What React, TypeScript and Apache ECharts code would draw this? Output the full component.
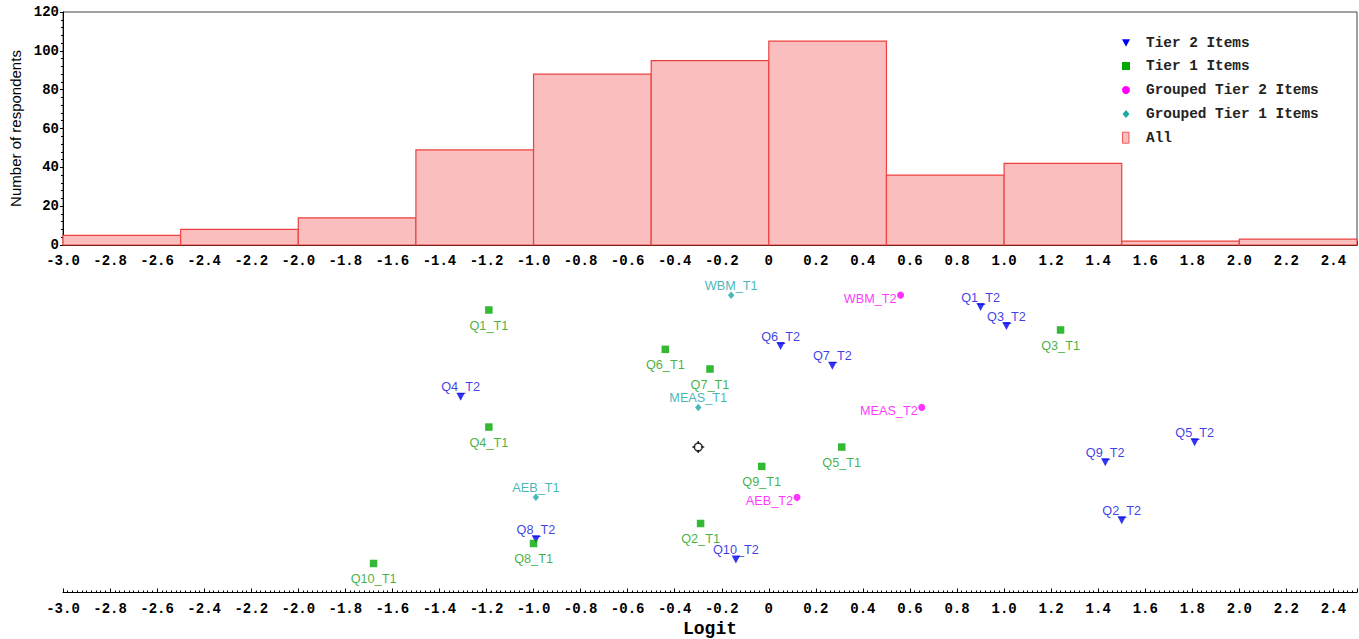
import React, { useEffect, useRef } from "react";
import * as echarts from "echarts";

// Histogram of respondents (bin edges on the logit scale and counts)
const binEdges = [-3.0, -2.5, -2.0, -1.5, -1.0, -0.5, 0, 0.5, 1.0, 1.5, 2.0, 2.5];
const binCounts = [5, 8, 14, 49, 88, 95, 105, 36, 42, 2, 3];

// Tier 2 items
const tier2Names = ["Q1_T2", "Q3_T2", "Q6_T2", "Q7_T2", "Q4_T2", "Q5_T2", "Q9_T2", "Q2_T2", "Q8_T2", "Q10_T2"];
const tier2X = [0.9, 1.01, 0.05, 0.27, -1.31, 1.81, 1.43, 1.5, -0.99, -0.14];
const tier2Y = [88.5, 82.6, 76.4, 70.3, 60.7, 46.6, 40.4, 22.4, 16.5, 10.2];

// Tier 1 items
const tier1Names = ["Q1_T1", "Q3_T1", "Q6_T1", "Q7_T1", "Q4_T1", "Q5_T1", "Q9_T1", "Q2_T1", "Q8_T1", "Q10_T1"];
const tier1X = [-1.19, 1.24, -0.44, -0.25, -1.19, 0.31, -0.03, -0.29, -1.0, -1.68];
const tier1Y = [87.6, 81.4, 75.4, 69.3, 51.3, 45.1, 39.1, 21.4, 15.2, 9.0];

// Grouped tier 2 items
const group2Names = ["WBM_T2", "MEAS_T2", "AEB_T2"];
const group2X = [0.56, 0.65, 0.12];
const group2Y = [92.2, 57.4, 29.5];

// Grouped tier 1 items
const group1Names = ["WBM_T1", "MEAS_T1", "AEB_T1"];
const group1X = [-0.16, -0.3, -0.99];
const group1Y = [92.2, 57.4, 29.5];

// Mean marker
const meanX = [-0.3];
const meanY = [45.1];

const legendLabels = ["Tier 2 Items", "Tier 1 Items", "Grouped Tier 2 Items", "Grouped Tier 1 Items", "All"];

const xTickFmt = (v: number) => (Math.abs(v) < 1e-9 ? "0" : v.toFixed(1));

const TRI_DOWN = "path://M0,0 L10,0 L5,9.5 Z";

export default function App() {
  const ref = useRef<HTMLDivElement>(null);

  useEffect(() => {
    if (!ref.current) return;
    const chart = echarts.init(ref.current, null, { renderer: "svg" });

    const mono = "'Liberation Mono', 'Courier New', monospace";
    const sans = "'Liberation Sans', Arial, sans-serif";

    const histData = binCounts.map((c, i) => [binEdges[i], binEdges[i + 1], c]);
    const pts = (xs: number[], ys: number[], names: string[]) =>
      xs.map((x, i) => ({ value: [x, ys[i]], name: names[i] }));

    const xAxisCommon = {
      type: "value",
      min: -3.0,
      max: 2.5,
      interval: 0.2,
      axisLine: { show: true, onZero: false, lineStyle: { color: "#000", width: 1 } },
      axisTick: { show: true, inside: true, length: 4, lineStyle: { color: "#000" } },
      minorTick: { show: true, splitNumber: 10, length: 2, lineStyle: { color: "#000" } },
      splitLine: { show: false },
      axisLabel: {
        formatter: xTickFmt,
        fontFamily: mono,
        fontWeight: "bold",
        fontSize: 14,
        color: "#000",
        margin: 9,
        showMaxLabel: false,
      },
    };

    const legendY = [42.7, 66, 90, 114, 137.7];
    const iconX = 1126;
    const graphics: any[] = [
      {
        type: "polygon",
        shape: { points: [[iconX - 4, legendY[0] - 3.5], [iconX + 4, legendY[0] - 3.5], [iconX, legendY[0] + 4]] },
        style: { fill: "#0000F0" },
      },
      {
        type: "rect",
        shape: { x: iconX - 4, y: legendY[1] - 4, width: 8, height: 8 },
        style: { fill: "#00A800" },
      },
      {
        type: "circle",
        shape: { cx: iconX, cy: legendY[2], r: 4 },
        style: { fill: "#FF00FF" },
      },
      {
        type: "polygon",
        shape: { points: [[iconX, legendY[3] - 4], [iconX + 3.5, legendY[3]], [iconX, legendY[3] + 4], [iconX - 3.5, legendY[3]]] },
        style: { fill: "#1AA8A8" },
      },
      {
        type: "rect",
        shape: { x: iconX - 3.5, y: legendY[4] - 5.5, width: 6.5, height: 11 },
        style: { fill: "#FABEBE", stroke: "#EE5A5A", lineWidth: 1 },
      },
      ...legendLabels.map((t, i) => ({
        type: "text",
        x: 1146,
        y: legendY[i],
        style: {
          text: t,
          fontFamily: mono,
          fontWeight: "bold",
          fontSize: 14.4,
          fill: "#222",
          verticalAlign: "middle",
          align: "left",
        },
      })),
    ];

    const option: any = {
      animation: false,
      backgroundColor: "#fff",
      grid: [
        {
          left: 63, right: 2, top: 12, height: 233, show: true, borderColor: "#444", borderWidth: 1,
          backgroundColor: "transparent", outerBoundsMode: "none", containLabel: false,
        },
        { left: 63, right: 2, top: 270, height: 322.5, outerBoundsMode: "none", containLabel: false },
      ],
      xAxis: [
        { ...xAxisCommon, gridIndex: 0 },
        {
          ...xAxisCommon,
          gridIndex: 1,
          name: "Logit",
          nameLocation: "middle",
          nameGap: 27,
          nameTextStyle: { fontFamily: mono, fontWeight: "bold", fontSize: 18, color: "#000" },
        },
      ],
      yAxis: [
        {
          type: "value",
          gridIndex: 0,
          min: 0,
          max: 120,
          interval: 20,
          name: "Number of respondents",
          nameLocation: "middle",
          nameGap: 36,
          nameTextStyle: { fontFamily: sans, fontSize: 15, color: "#000" },
          axisLine: { show: true, onZero: false, lineStyle: { color: "#000" } },
          axisTick: { show: true, inside: false, length: 3, lineStyle: { color: "#000" } },
          minorTick: { show: true, splitNumber: 5, length: 2, lineStyle: { color: "#000" } },
          splitLine: { show: false },
          axisLabel: { fontFamily: mono, fontWeight: "bold", fontSize: 14, color: "#000", margin: 4 },
        },
        { type: "value", gridIndex: 1, min: 0, max: 100, show: false },
      ],
      graphic: graphics,
      series: [
        {
          type: "custom",
          name: "All",
          xAxisIndex: 0,
          yAxisIndex: 0,
          data: histData,
          encode: { x: [0, 1], y: 2 },
          renderItem: (params: any, api: any) => {
            const p0 = api.coord([api.value(0), api.value(2)]);
            const p1 = api.coord([api.value(1), 0]);
            return {
              type: "rect",
              shape: { x: p0[0], y: p0[1], width: p1[0] - p0[0], height: p1[1] - p0[1] },
              style: { fill: "#FABEBE", stroke: "#EE4040", lineWidth: 1.2 },
            };
          },
        },
        {
          type: "scatter",
          name: "Tier 2 Items",
          xAxisIndex: 1,
          yAxisIndex: 1,
          symbol: TRI_DOWN,
          symbolSize: [8.5, 8],
          itemStyle: { color: "#0000F0" },
          data: pts(tier2X, tier2Y, tier2Names),
          label: {
            show: true,
            formatter: "{b}",
            position: "inside",
            offset: [0, -9.5],
            fontFamily: sans,
            fontSize: 12.7,
            color: "#0A0AE0",
          },
        },
        {
          type: "scatter",
          name: "Tier 1 Items",
          xAxisIndex: 1,
          yAxisIndex: 1,
          symbol: "rect",
          symbolSize: 7.5,
          itemStyle: { color: "#00A800" },
          data: pts(tier1X, tier1Y, tier1Names),
          label: {
            show: true,
            formatter: "{b}",
            position: "inside",
            offset: [0, 16],
            fontFamily: sans,
            fontSize: 12.7,
            color: "#10A010",
          },
        },
        {
          type: "scatter",
          name: "Grouped Tier 2 Items",
          xAxisIndex: 1,
          yAxisIndex: 1,
          symbol: "circle",
          symbolSize: 7,
          itemStyle: { color: "#FF00FF" },
          data: pts(group2X, group2Y, group2Names),
          label: {
            show: true,
            formatter: "{b}",
            position: "inside",
            align: "right",
            offset: [-4, 3.5],
            fontFamily: sans,
            fontSize: 12.7,
            color: "#FF00FF",
          },
        },
        {
          type: "scatter",
          name: "Grouped Tier 1 Items",
          xAxisIndex: 1,
          yAxisIndex: 1,
          symbol: "diamond",
          symbolSize: [6.5, 7.5],
          itemStyle: { color: "#1AA8A8" },
          data: pts(group1X, group1Y, group1Names),
          label: {
            show: true,
            formatter: "{b}",
            position: "inside",
            offset: [0, -9],
            fontFamily: sans,
            fontSize: 12.7,
            color: "#12A4A4",
          },
        },
        {
          type: "scatter",
          name: "Mean",
          xAxisIndex: 1,
          yAxisIndex: 1,
          symbol: "circle",
          symbolSize: 8,
          itemStyle: { color: "transparent", borderColor: "#000", borderWidth: 1.5 },
          data: meanX.map((x, i) => [x, meanY[i]]),
        },
        {
          type: "scatter",
          name: "MeanTicks",
          xAxisIndex: 1,
          yAxisIndex: 1,
          symbol: "path://M5,0 L5,2.5 M5,7.5 L5,10 M0,5 L2.5,5 M7.5,5 L10,5",
          symbolSize: 12,
          itemStyle: { color: "none", borderColor: "#000", borderWidth: 1.5 },
          data: meanX.map((x, i) => [x, meanY[i]]),
        },
      ],
    };

    chart.setOption(option);
    return () => chart.dispose();
  }, []);

  return (
    <div
      ref={ref}
      style={{ position: "fixed", left: 0, top: 0, width: 1359, height: 639, background: "#fff" }}
    />
  );
}
